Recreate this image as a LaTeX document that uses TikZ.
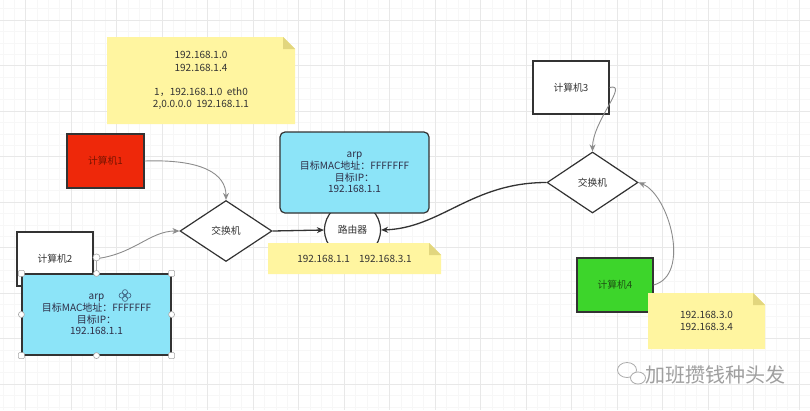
\documentclass[tikz,border=0pt]{standalone}
\usepackage{fontspec}
\setmainfont{Noto Sans CJK SC}
\usetikzlibrary{shapes.geometric,arrows.meta,calc}
\definecolor{ink}{HTML}{333333}
\definecolor{cyanfill}{RGB}{140,228,248}
\definecolor{redfill}{RGB}{238,40,10}
\definecolor{redtext}{RGB}{120,20,0}
\definecolor{greenfill}{RGB}{61,213,43}
\definecolor{greentext}{RGB}{30,80,20}
\definecolor{notefill}{RGB}{255,245,160}
\definecolor{notefold}{RGB}{226,214,126}
\definecolor{conn}{RGB}{140,140,140}
\definecolor{gridmaj}{RGB}{232,232,232}
\definecolor{gridmin}{RGB}{247,247,247}
\definecolor{iconc}{RGB}{70,110,140}
\newcommand\mynote[6]{%
  \fill[notefill] (#2,#3) -- (#4-12,#3) -- (#4,#3+12) -- (#4,#5) -- (#2,#5) -- cycle;
  \fill[notefold] (#4-12,#3) -- (#4,#3+12) -- (#4-12,#3+12) -- cycle;
  \node[txt] (#1) at ({(#2+#4)/2},{(#3+#5)/2}) {#6};
}
\begin{document}
\begin{tikzpicture}[x=1pt,y=-1pt,
  txt/.style={font=\fontsize{10}{12.2}\selectfont, text=ink, align=center, inner sep=0},
  pcbox/.style={draw=ink, line width=1.2pt, rectangle, inner sep=0, font=\fontsize{9.8}{12}\selectfont, text=ink},
  arpbox/.style={draw=ink, line width=1.2pt, fill=cyanfill, rectangle, minimum width=149, minimum height=81, align=center, font=\fontsize{10}{11.6}\selectfont, text=ink!90!blue},
  swbox/.style={draw=ink, line width=1.2pt, fill=white, diamond, inner sep=1pt, font=\fontsize{9.8}{12}\selectfont, text=ink},
  thin/.style={draw=conn, line width=0.9pt, -{Stealth[length=7pt,width=6pt]}},
  thick/.style={draw=ink, line width=1.3pt, -{Stealth[length=7pt,width=6pt]}},
  hnd/.style={draw=gray!70, fill=white, line width=0.6pt, circle, inner sep=0, minimum size=6},
  hsq/.style={draw=gray!70, fill=white, line width=0.6pt, rectangle, rounded corners=1, inner sep=0, minimum size=6}
]
\useasboundingbox (0,0) rectangle (810,410);
\fill[white] (0,0) rectangle (810,410);
% grid
\foreach \i in {0,...,75} {
  \draw[gridmin, line width=0.4pt] ({-20.0+\i*11.375},0) -- ({-20.0+\i*11.375},410);
}
\foreach \i in {0,...,40} {
  \draw[gridmin, line width=0.4pt] (0,{-25.5+\i*11.375}) -- (810,{-25.5+\i*11.375});
}
\foreach \i in {0,...,18} {
  \draw[gridmaj, line width=0.5pt] ({25.5+(\i-1)*45.5},0) -- ({25.5+(\i-1)*45.5},410);
}
\foreach \i in {0,...,9} {
  \draw[gridmaj, line width=0.5pt] (0,{20+(\i-1)*45.5}) -- (810,{20+(\i-1)*45.5});
}

% note 1
\mynote{n1}{107}{37}{295}{124}{192.168.1.0\\192.168.1.4\\[12pt]1，192.168.1.0\ \ eth0\\2,0.0.0.0\ \ 192.168.1.1}

% computers
\node[pcbox, fill=redfill, text=redtext, minimum width=77, minimum height=54] (pc1) at (105.5,161) {计算机1};
\node[pcbox, fill=white, minimum width=76, minimum height=54] (pc2) at (55,259) {计算机2};
\node[pcbox, fill=white, minimum width=76, minimum height=53] (pc3) at (571,87.5) {计算机3};
\node[pcbox, fill=greenfill, text=greentext, minimum width=76, minimum height=54] (pc4) at (615,285) {计算机4};

% switches and router
\node[swbox, minimum width=92, minimum height=61] (sw1) at (226,231) {交换机};
\node[swbox, minimum width=91, minimum height=61] (sw2) at (592.5,182.5) {交换机};
\node[draw=ink, line width=1.2pt, fill=white, circle, minimum size=56, inner sep=0, font=\fontsize{9.8}{12}\selectfont, text=ink] (router) at (352.5,230) {路由器};

% connectors
\draw[thin] (pc1.east) .. controls +(58,-2) and +(0,-26) .. (sw1.north);
\draw[thin] (pc2.east) .. controls +(40,-4) and +(-30,0) .. (sw1.west);
\draw[thin] (pc3.east) .. controls +(20,-5) and +(0,-30) .. (sw2.north);
\draw[thin] (pc4.east) .. controls +(38,-10) and +(30,12) .. (sw2.east);
\draw[thick] (sw1.east) -- (router.west);
\draw[thick] (sw2.west) .. controls +(-75,0) and +(60,-2) .. (router.east);

% arp box on top
\node[arpbox, rounded corners=5pt] (arp2) at (354.5,172.5) {arp\\目标MAC地址：FFFFFFF\\目标IP：\\192.168.1.1};

% note 2
\mynote{n2}{268}{243}{441}{274}{192.168.1.1\hspace{9pt}192.168.3.1}

% note 3
\mynote{n3}{648}{293}{765}{349}{192.168.3.0\\192.168.3.4}

% selected arp box
\node[arpbox] (arp1) at (96.5,314.5) {arp\\目标MAC地址：FFFFFFF\\目标IP：\\192.168.1.1};
\coordinate (ic) at (125,295.5);
\foreach \dx/\dy in {-3.3/0,3.3/0,0/-3.3,0/3.3} {
  \draw[iconc, line width=0.7pt] ($(ic)+(\dx,\dy)$) circle [radius=2.6];
}
\draw[iconc, line width=0.6pt] (ic) circle [radius=1.2];
% selection handles
\node[hnd, minimum size=7] (rot) at ($(arp1.north)+(0,-16)$) {};
\draw[gray!70, line width=0.6pt] (rot) -- (arp1.north);
\node[hsq] (h1) at (arp1.north west) {};
\node[hsq] (h2) at (arp1.north east) {};
\node[hsq] (h3) at (arp1.south west) {};
\node[hsq] (h4) at (arp1.south east) {};
\node[hnd] (h5) at (arp1.north) {};
\node[hnd] (h6) at (arp1.south) {};
\node[hnd] (h7) at (arp1.west) {};
\node[hnd] (h8) at (arp1.east) {};

% watermark
\draw[gray!65, line width=0.8pt] (627,370) ellipse [x radius=9.5, y radius=7.5];
\draw[gray!65, fill=white, line width=0.8pt] (638,378) ellipse [x radius=7.5, y radius=6];
\node[font=\fontsize{20}{20}\selectfont, text=gray!75, inner sep=0] (wm) at (715,375) {加班攒钱种头发};
\end{tikzpicture}
\end{document}
